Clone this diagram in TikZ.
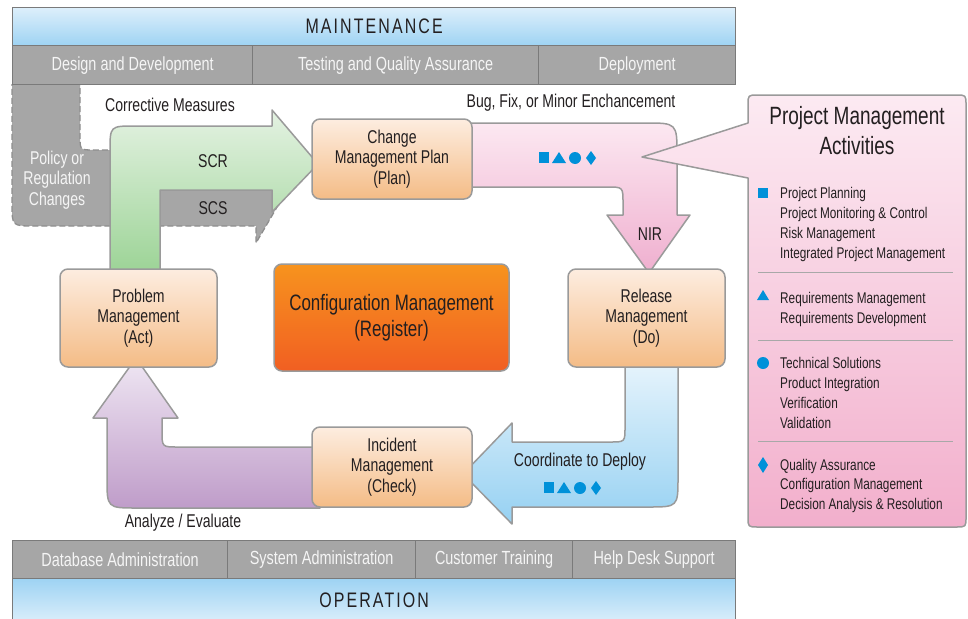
\documentclass[tikz,border=0pt]{standalone}
\usepackage{fontspec}
\setmainfont{Liberation Sans}[FakeStretch=0.76]
\definecolor{textdark}{HTML}{231F20}
\definecolor{boxborder}{HTML}{9A9A9A}
\definecolor{boxtop}{HTML}{FDEDE0}
\definecolor{boxbot}{HTML}{F4BC86}
\definecolor{cfgtop}{HTML}{F7931E}
\definecolor{cfgbot}{HTML}{F15F22}
\definecolor{cellgray}{HTML}{A6A6A6}
\definecolor{cellborder}{HTML}{7A7A7A}
\definecolor{celltext}{HTML}{F5F5F5}
\definecolor{barlight}{HTML}{DDEFFB}
\definecolor{bardark}{HTML}{9ED3F3}
\definecolor{greentop}{HTML}{E4F2E2}
\definecolor{greenbot}{HTML}{9BD395}
\definecolor{pinktop}{HTML}{FCE8F1}
\definecolor{pinkbot}{HTML}{EFAFCF}
\definecolor{bluetop}{HTML}{E7F4FC}
\definecolor{bluebot}{HTML}{96D1F2}
\definecolor{purptop}{HTML}{EFE7F3}
\definecolor{purpbot}{HTML}{BF9CC9}
\definecolor{calltop}{HTML}{FCEAF2}
\definecolor{callbot}{HTML}{F2AFCC}
\definecolor{symblue}{HTML}{0091D9}
\definecolor{dashgray}{HTML}{8E8E8E}
\definecolor{sepgray}{HTML}{A8A8A8}
\begin{document}
\begin{tikzpicture}[x=1pt,y=-1pt,
  txt/.style={text=textdark, font=\fontsize{18.5}{20.5}\selectfont, align=center, inner sep=0},
  pbox/.style={draw=boxborder, line width=1.5pt, rounded corners=8pt, top color=boxtop, bottom color=boxbot,
     align=center, text=textdark, font=\fontsize{18.5}{20.5}\selectfont, inner sep=0},
  cell/.style={draw=cellborder, fill=cellgray, line width=1.3pt, minimum height=39, anchor=north west,
     inner sep=0, font=\fontsize{19}{21}\selectfont, text=celltext},
  bar/.style={draw=cellborder, line width=1.3pt, anchor=north west, inner sep=0, minimum width=723,
     text=textdark, font=\fontsize{21}{24}\selectfont\addfontfeatures{LetterSpace=10}},
  arrowshape/.style={draw=boxborder, line width=1.5pt, line join=round},
  item/.style={anchor=base west, inner sep=0, text=textdark, font=\fontsize{15.5}{20}\selectfont},
  sep/.style={draw=sepgray, line width=1pt},
  pics/symrow/.style={code={
     \fill[symblue] (-29,-6) rectangle (-19,5);
     \fill[symblue] (-16,5) -- (-9,-6) -- (-2,5) -- cycle;
     \fill[symblue] (7,0) circle[radius=6];
     \fill[symblue] (23,-7) -- (28,0) -- (23,7) -- (18,0) -- cycle;
  }}
]
\useasboundingbox (0,0) rectangle (968,618);

% gray dashed "policy" shape
\path[fill=cellgray, draw=dashgray, dash pattern=on 6pt off 3pt, line width=1.3pt]
  (12,84) -- (80,84) -- (80,136) .. controls (80,150) .. (94,150) -- (160,150) -- (160,178)
  .. controls (160,190) .. (172,190) -- (255,190) -- (268,170) -- (280,202) -- (256,243)
  -- (256,226) -- (34,226) .. controls (12,226) .. (12,204) -- cycle;
\node[txt, text=celltext] (policy) at (57,180) {Policy or\\Regulation\\Changes};

% green arrow
\path[arrowshape, top color=greentop, bottom color=greenbot]
  (110,275) -- (110,151) .. controls (110,126) .. (135,126) -- (272,126) -- (272,110)
  -- (318,164) -- (272,212) -- (272,190) -- (160,190) -- (160,275) -- cycle;

% pink arrow
\path[arrowshape, top color=pinktop, bottom color=pinkbot]
  (465,123) -- (645,123) .. controls (677,123) .. (677,155) -- (677,215) -- (690,215)
  -- (649,273) -- (607,215) -- (623,215) -- (623,203) .. controls (623,187) .. (607,187)
  -- (465,187) -- cycle;

% blue arrow
\path[arrowshape, top color=bluetop, bottom color=bluebot]
  (625,360) -- (678,360) -- (678,477) .. controls (678,507) .. (648,507) -- (512,507)
  -- (512,524) -- (463,474) -- (512,423) -- (512,442) -- (610,442)
  .. controls (625,442) .. (625,427) -- cycle;

% purple arrow
\path[arrowshape, top color=purptop, bottom color=purpbot]
  (320,447) -- (178,447) .. controls (162,447) .. (162,431) -- (162,418) -- (178,418)
  -- (136,358) -- (93,418) -- (107,418) -- (107,478) .. controls (107,508) .. (137,508)
  -- (320,508) -- cycle;

% top bars
\node[bar, top color=barlight, bottom color=bardark, minimum height=38] (maint) at (12,7) {MAINTENANCE};
\node[cell, minimum width=240] (design) at (12,45) {Design and Development};
\node[cell, minimum width=286] (testing) at (252,45) {Testing and Quality Assurance};
\node[cell, minimum width=197] (deploy) at (538,45) {Deployment};

% bottom bars
\node[cell, minimum width=215, minimum height=38] (dba) at (12,540) {Database Administration};
\node[cell, minimum width=188, minimum height=38] (sysadm) at (227,540) {System Administration};
\node[cell, minimum width=157, minimum height=38] (training) at (415,540) {Customer Training};
\node[cell, minimum width=163, minimum height=38] (helpdesk) at (572,540) {Help Desk Support};
\node[bar, top color=bardark, bottom color=barlight, minimum height=45] (oper) at (12,578) {\raisebox{2pt}{OPERATION}};

% boxes
\node[pbox, minimum width=160, minimum height=80] (change) at (392,159) {Change\\Management Plan\\(Plan)};
\node[pbox, minimum width=157, minimum height=98] (release) at (646.5,318) {Release\\Management\\(Do)};
\node[pbox, minimum width=157, minimum height=98] (problem) at (138.5,318) {Problem\\Management\\(Act)};
\node[pbox, minimum width=160, minimum height=80] (incident) at (392,467) {Incident\\Management\\(Check)};
\node[pbox, top color=cfgtop, bottom color=cfgbot, minimum width=235, minimum height=107,
      font=\fontsize{22.3}{26}\selectfont] (config) at (391.5,317.5) {Configuration Management\\(Register)};

% labels
\node[txt] (corrective) at (170,105) {Corrective Measures};
\node[txt] (scr) at (213,161) {SCR};
\node[txt] (scs) at (213,208) {SCS};
\node[txt] (bug) at (571,103) {Bug, Fix, or Minor Enchancement};
\node[txt] (nir) at (650,234) {NIR};
\node[txt] (coord) at (580,462) {Coordinate to Deploy};
\node[txt] (analyze) at (183,523) {Analyze / Evaluate};
\pic (symA) at (568,158) {symrow};
\pic (symB) at (573,488) {symrow};

% callout
\path[draw=boxborder, line width=1.5pt, line join=round, top color=calltop, bottom color=callbot]
  (758,95) -- (956,95) .. controls (966,95) .. (966,105) -- (966,517) .. controls (966,527) .. (956,527)
  -- (758,527) .. controls (748,527) .. (748,517) -- (748,178) -- (642,157) -- (748,123)
  -- (748,105) .. controls (748,95) .. (758,95) -- cycle;
\node[txt, font=\fontsize{25}{30}\selectfont] (pmtitle) at (857,131) {Project Management\\Activities};

\fill[symblue] (758,188) rectangle (768,198);
\fill[symblue] (757,300) -- (763,290) -- (769,300) -- cycle;
\fill[symblue] (763,363) circle[radius=6];
\fill[symblue] (763,457) -- (768,465) -- (763,473) -- (758,465) -- cycle;

\node[item] (i1) at (780,198.5) {Project Planning};
\node[item] (i2) at (780,218.5) {Project Monitoring \& Control};
\node[item] (i3) at (780,238.5) {Risk Management};
\node[item] (i4) at (780,258.5) {Integrated Project Management};
\draw[sep] (758,272) -- (953,272);
\node[item] (i5) at (780,303.5) {Requirements Management};
\node[item] (i6) at (780,323.5) {Requirements Development};
\draw[sep] (758,340) -- (953,340);
\node[item] (i7) at (780,368.5) {Technical Solutions};
\node[item] (i8) at (780,388.5) {Product Integration};
\node[item] (i9) at (780,408.5) {Verification};
\node[item] (i10) at (780,428.5) {Validation};
\draw[sep] (758,441) -- (953,441);
\node[item] (i11) at (780,470.5) {Quality Assurance};
\node[item] (i12) at (780,489.5) {Configuration Management};
\node[item] (i13) at (780,509.5) {Decision Analysis \& Resolution};
\end{tikzpicture}
\end{document}
